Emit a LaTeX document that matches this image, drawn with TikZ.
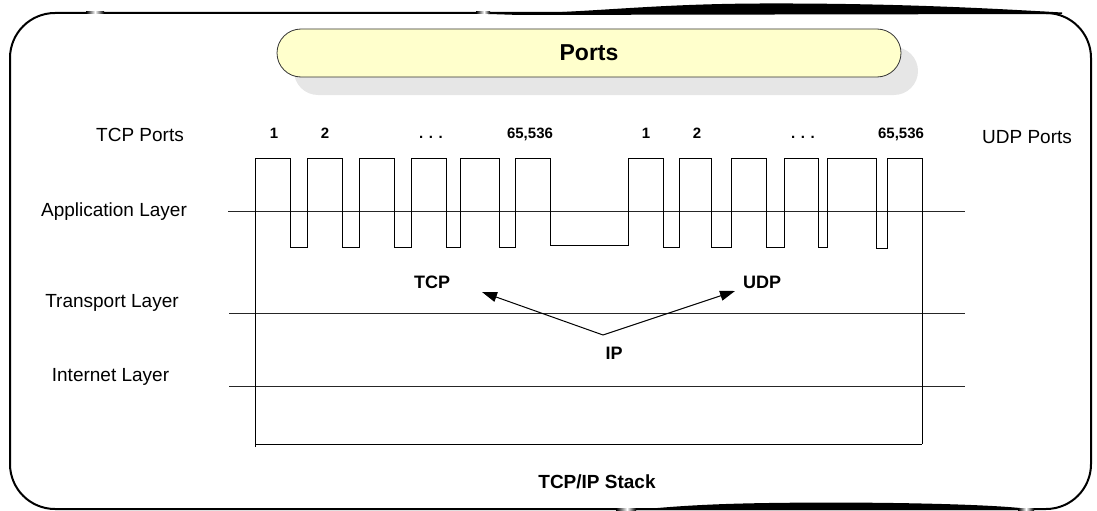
\documentclass[tikz,border=0pt]{standalone}
\usepackage{fontspec}
\setmainfont{Liberation Sans}
\usetikzlibrary{arrows.meta}
\definecolor{pillfill}{HTML}{FFFFCC}
\definecolor{shadowgray}{HTML}{E6E6E6}
\tikzset{
  lbl/.style={inner sep=0pt, font=\fontsize{19}{22}\selectfont},
  blbl/.style={inner sep=0pt, font=\fontsize{18}{21}\selectfont\bfseries},
  numlbl/.style={inner sep=0pt, anchor=base, font=\fontsize{15}{18}\selectfont\bfseries},
  wire/.style={line width=1pt, black, line join=miter},
  layerline/.style={line width=1pt, black!85},
  arr/.style={line width=1pt, black, -{Triangle[length=15pt,width=10pt]}},
  framestroke/.style={line width=2pt, black},
  pill/.style={rounded corners=24pt, minimum width=624pt, minimum height=48pt, inner sep=0pt},
}
\begin{document}
\begin{tikzpicture}[x=1pt,y=-1pt]
\useasboundingbox (0,0) rectangle (1097,511);

% outer brush frame
\draw[framestroke, rounded corners=45pt] (10,13) rectangle (1091,509);
\fill[black] (488,15) .. controls (600,12) and (650,4) .. (760,3.5)
  .. controls (900,3) and (1000,9) .. (1062,12.5) -- (1062,14) -- (488,15) -- cycle;
% faded spots of the brush stroke
\shade[left color=black, right color=white] (86,12) rectangle (95,14);
\shade[left color=white, right color=black] (95,12) rectangle (104,14);
\shade[left color=black, right color=white] (476,12) rectangle (484,14);
\shade[left color=white, right color=black] (484,12) rectangle (490,14);
\fill[black] (636,510) .. controls (700,503.5) and (750,503) .. (820,502.5)
  .. controls (920,502.5) and (990,505) .. (1020,508) -- (1020,510) -- cycle;
\shade[left color=black, right color=white] (616,508) rectangle (627,510);
\shade[left color=white, right color=black] (627,508) rectangle (636,510);
\shade[left color=black, right color=white] (1018,508) rectangle (1026,510);
\shade[left color=white, right color=black] (1026,508) rectangle (1034,510);

% title pill
\node[pill, fill=shadowgray] (shadow) at (606,71) {};
\node[pill, draw=black!80, line width=0.8pt, fill=pillfill,
      font=\fontsize{23}{26}\selectfont\bfseries] (title) at (589,53) {Ports};

% layer lines
\draw[layerline] (228,211) -- (965,211);
\draw[layerline] (229,313) -- (965,313);
\draw[layerline] (229,386) -- (965,386);

% port square wave
\draw[wire] (255,447) -- (255,158) -- (290,158) -- (290,247) -- (307,247) -- (307,158)
  -- (342,158) -- (342,247) -- (359,247) -- (359,158) -- (394,158) -- (394,247)
  -- (411,247) -- (411,158) -- (446,158) -- (446,247) -- (460,247) -- (460,158)
  -- (499,158) -- (499,247) -- (515,247) -- (515,158) -- (550,158) -- (550,245)
  -- (628,245) -- (628,158) -- (663,158) -- (663,247) -- (679,247) -- (679,158)
  -- (711,158) -- (711,247) -- (731,247) -- (731,158) -- (766,158) -- (766,247)
  -- (784,247) -- (784,158) -- (818,158) -- (818,247) -- (827,247) -- (827,158)
  -- (876,158) -- (876,248) -- (887,248) -- (887,158) -- (922,158) -- (922,444);
\draw[wire] (255,444) -- (922,444);

% side labels
\node[lbl] (tcpports) at (140,135) {TCP Ports};
\node[lbl] (udpports) at (1027,137) {UDP Ports};
\node[lbl] (app) at (114,212) {Application Layer};
\node[lbl] (trans) at (112,303) {Transport Layer};
\node[lbl] (inet) at (110.5,377) {Internet Layer};

% port numbers
\node[numlbl] (t1) at (274,138) {1};
\node[numlbl] (t2) at (325,138) {2};
\node[numlbl] (tdots) at (431,138) {. . .};
\node[numlbl] (tmax) at (530,138) {65,536};
\node[numlbl] (u1) at (646,138) {1};
\node[numlbl] (u2) at (697,138) {2};
\node[numlbl] (udots) at (803,138) {. . .};
\node[numlbl] (umax) at (901,138) {65,536};

% protocols
\node[blbl] (tcp) at (432,282) {TCP};
\node[blbl] (udp) at (762,282) {UDP};
\node[blbl] (ip) at (614,353) {IP};
\coordinate (ipv) at (603,335);
\coordinate (tcptip) at (482,292);
\coordinate (udptip) at (735,291);
\draw[arr] (ipv) -- (tcptip);
\draw[arr] (ipv) -- (udptip);

% stack label
\node[inner sep=0pt, font=\fontsize{19}{22}\selectfont\bfseries] (stack) at (597,482) {TCP/IP Stack};
\end{tikzpicture}
\end{document}
